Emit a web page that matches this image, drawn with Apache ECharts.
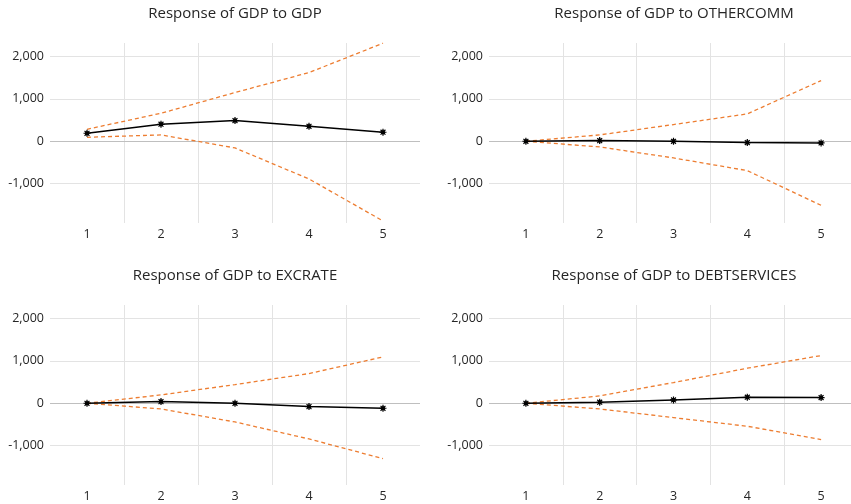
<!DOCTYPE html>
<html>
<head>
<meta charset="utf-8">
<script src="https://cdn.jsdelivr.net/npm/echarts@6/dist/echarts.min.js"></script>
<style>
html,body{margin:0;padding:0;background:#fff;}
#c{width:851px;height:504px;}
</style>
</head>
<body>
<div id="c"></div>
<script>
// Data
const periods = [1, 2, 3, 4, 5];
const yTicks = [-1000, 0, 1000, 2000];
const titles = ['Response of GDP to GDP', 'Response of GDP to OTHERCOMM', 'Response of GDP to EXCRATE', 'Response of GDP to DEBTSERVICES'];

const gdpResp  = [189, 402, 488, 354, 213];
const gdpUpper = [283, 661, 1150, 1622, 2315];
const gdpLower = [94, 150, -157, -890, -1882];

const othResp  = [0, 15, 0, -30, -40];
const othUpper = [0, 150, 394, 646, 1433];
const othLower = [0, -134, -394, -693, -1512];

const excResp  = [0, 39, 0, -79, -118];
const excUpper = [0, 197, 441, 701, 1094];
const excLower = [0, -134, -441, -843, -1307];

const debtResp  = [0, 24, 79, 142, 134];
const debtUpper = [0, 173, 488, 827, 1126];
const debtLower = [0, -134, -339, -543, -858];

const panels = [
  {resp: gdpResp, upper: gdpUpper, lower: gdpLower},
  {resp: othResp, upper: othUpper, lower: othLower},
  {resp: excResp, upper: excUpper, lower: excLower},
  {resp: debtResp, upper: debtUpper, lower: debtLower}
];

const FONT = 'Open Sans';
// right-hand panels extend past the picture edge, so their x range is cut short
const layout = [
  {left: 50, top: 43, width: 370, xmax: 5.5, cx: 235, ty: 6},
  {left: 489, top: 43, width: 362, xmax: 5.5 - 7 / 73.8, cx: 674, ty: 6},
  {left: 50, top: 305, width: 370, xmax: 5.5, cx: 235, ty: 268},
  {left: 489, top: 305, width: 362, xmax: 5.5 - 7 / 73.8, cx: 674, ty: 268}
];
const H = 180;
const bounds = periods.slice(0, -1).map(p => p + 0.5);
const pairs = arr => periods.map((p, j) => [p, arr[j]]);

const grid = [], xAxis = [], yAxis = [], series = [], title = [];
layout.forEach((L, i) => {
  title.push({
    text: titles[i], left: L.cx, top: L.ty, textAlign: 'center', padding: 0,
    textStyle: {fontFamily: FONT, fontSize: 15, fontWeight: 'normal', color: '#262626'}
  });
  grid.push({left: L.left, top: L.top, width: L.width, height: H, containLabel: false});
  xAxis.push({
    type: 'value', gridIndex: i, min: 0.5, max: L.xmax,
    axisLine: {show: false},
    axisTick: {show: false, customValues: bounds},
    axisLabel: {customValues: periods, fontFamily: FONT, fontSize: 12.5, color: '#262626', margin: 5},
    splitLine: {show: true, lineStyle: {color: '#e3e3e3', width: 1}}
  });
  yAxis.push({
    type: 'value', gridIndex: i, min: -1930, max: 2320,
    axisLine: {show: false},
    axisTick: {show: false, customValues: yTicks},
    axisLabel: {customValues: yTicks, fontFamily: FONT, fontSize: 12.5, color: '#262626', margin: 6,
      formatter: v => Number(v).toLocaleString('en-US')},
    splitLine: {show: true, lineStyle: {color: '#e3e3e3', width: 1}}
  });
  const p = panels[i];
  const dashed = {color: '#ED7D31', width: 1.3, type: [4, 3]};
  series.push({type: 'line', xAxisIndex: i, yAxisIndex: i, data: pairs(p.upper), symbol: 'none', lineStyle: dashed, itemStyle: {color: '#ED7D31'}, silent: true, z: 2});
  series.push({type: 'line', xAxisIndex: i, yAxisIndex: i, data: pairs(p.lower), symbol: 'none', lineStyle: dashed, itemStyle: {color: '#ED7D31'}, silent: true, z: 2});
  series.push({
    type: 'line', xAxisIndex: i, yAxisIndex: i, data: pairs(p.resp),
    symbol: 'path://M0,5L10,5M5,0L5,10M1.5,1.5L8.5,8.5M8.5,1.5L1.5,8.5M3,3L7,3L7,7L3,7Z',
    symbolSize: 7, showSymbol: true,
    lineStyle: {color: '#000', width: 1.5},
    itemStyle: {color: '#000', borderColor: '#000', borderWidth: 1.2},
    silent: true, z: 3,
    markLine: {
      silent: true, symbol: 'none', label: {show: false},
      lineStyle: {color: '#bfbfbf', width: 1.2, type: 'solid'},
      data: [{yAxis: 0}], z: 1
    }
  });
});

const chart = echarts.init(document.getElementById('c'), null, {renderer: 'canvas'});
chart.setOption({animation: false, backgroundColor: '#fff', title, grid, xAxis, yAxis, series});
</script>
</body>
</html>
